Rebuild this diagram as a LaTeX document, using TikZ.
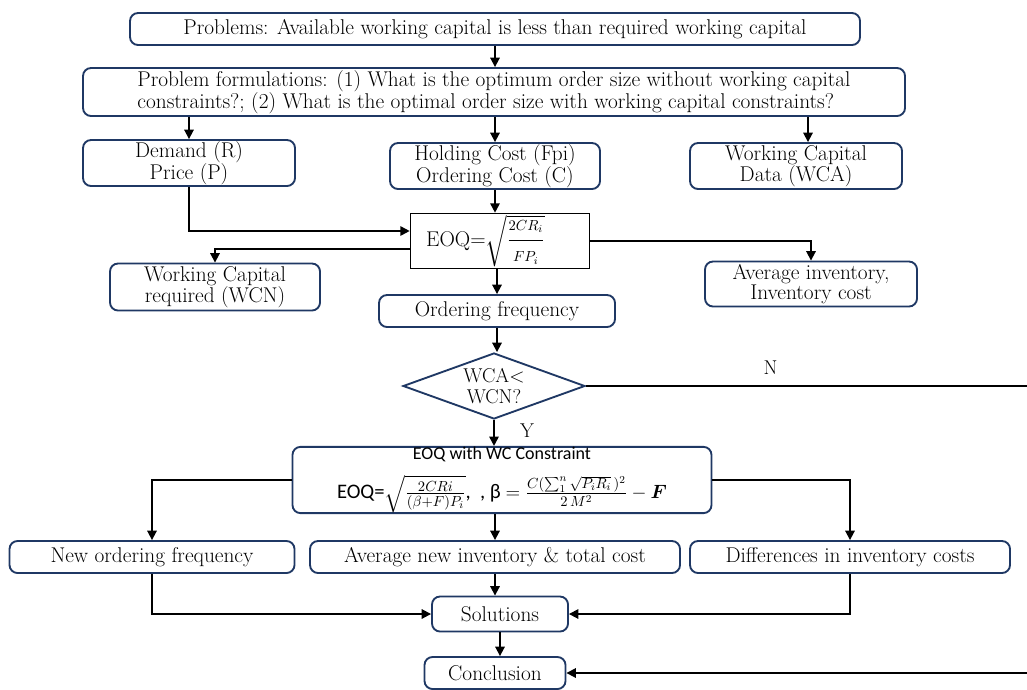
\documentclass[tikz,border=0pt]{standalone}
\usepackage{amsmath, amssymb}
\usepackage{fontspec}
\newfontfamily\calibri{Carlito}
\usepackage{tikz}
\usetikzlibrary{shapes.geometric, arrows.meta, positioning, calc}
\definecolor{azulBorde}{RGB}{31, 56, 100}

\begin{document}
\begin{tikzpicture}[x=0.75pt, y=-0.75pt,
            caja/.style={rectangle, rounded corners=6pt, draw=azulBorde, line width=1.4pt, fill=white, inner sep=0pt, minimum height=24pt, align=center, font=\fontsize{16}{15.5}\selectfont},
            recuadro/.style={rectangle, draw=black, line width=1.2pt, fill=white, inner sep=0pt, align=center, font=\fontsize{16}{15.5}\selectfont},
            rombo/.style={diamond, aspect=2.75, draw=azulBorde, line width=1.4pt, fill=white, inner sep=0pt, minimum width=136.5pt, minimum height=49.5pt, align=center, font=\fontsize{15}{15.5}\selectfont},
            etiqueta/.style={inner sep=0pt, font=\fontsize{15}{15}\selectfont},
            flecha/.style={-{Triangle[length=7pt, width=7pt]}, line width=1.3pt, black}]

            \useasboundingbox (0,0) rectangle (1027,689);

            \node[caja, minimum width=547.5pt] (prob) at (495,29) {Problems: Available working capital is less than required working capital};
            \node[caja, minimum width=616.5pt, minimum height=36pt, align=left] (form) at (494,92) {Problem formulations: (1) What is the optimum order size without working capital\\constraints?; (2) What is the optimal order size with working capital constraints?};
            \node[caja, minimum width=159pt, minimum height=34.5pt] (dem) at (189,163) {Demand (R)\\Price (P)};
            \node[caja, minimum width=157.5pt, minimum height=34.5pt] (hold) at (495,166) {Holding Cost (Fpi)\\Ordering Cost (C)};
            \node[caja, minimum width=159pt, minimum height=34.5pt] (wca) at (796,166) {Working Capital\\Data (WCA)};
            \node[recuadro, minimum width=134.25pt, minimum height=41.25pt] (eoq) at (500,241) {EOQ=$\sqrt{\dfrac{\scriptstyle 2CR_i}{\scriptstyle FP_i}}$\hspace{22pt}};
            \node[caja, minimum width=157.5pt, minimum height=35.25pt] (wcn) at (215,287) {Working Capital\\required (WCN)};
            \node[caja, minimum width=159pt, minimum height=33.75pt] (avg) at (811,284) {Average inventory,\\Inventory cost};
            \node[caja, minimum width=177pt] (ordf) at (497,311) {Ordering frequency};
            \node[rombo] (dec) at (494,386) {WCA<\\WCN?};
            \node[caja, minimum width=314.25pt, minimum height=48.75pt, font=\calibri] (eoqwc) at (502,480) {{\fontsize{13.5}{14}\selectfont EOQ with WC Constraint}\\[9pt]{\fontsize{15.5}{16}\selectfont EOQ=$\sqrt{\frac{2CRi}{(\beta+F)P_i}}$,\ \ , β $= \frac{C(\sum_1^n\sqrt{P_iR_i}\,)^2}{2\,M^2} - \boldsymbol{F}$}};
            \node[caja, minimum width=213.75pt] (nof) at (152,557) {New ordering frequency};
            \node[caja, minimum width=277.5pt] (ani) at (495,557) {Average new inventory \& total cost};
            \node[caja, minimum width=240pt] (dif) at (850,557) {Differences in inventory costs};
            \node[caja, minimum width=102pt, minimum height=26.25pt] (sol) at (500,614) {Solutions};
            \node[caja, minimum width=105.75pt] (conc) at (495,673) {Conclusion};
            \coordinate (der) at (1036,386);

            \draw[flecha] (prob.south) -- (prob.south |- form.north);
            \draw[flecha] (dem.north |- form.south) -- (dem.north);
            \draw[flecha] (hold.north |- form.south) -- (hold.north);
            \draw[flecha] ([xshift=9pt]wca.north |- form.south) -- ([xshift=9pt]wca.north);
            \draw[flecha] (dem.south) |- ([yshift=7.5pt]eoq.west);
            \draw[flecha] (hold.south) -- (hold.south |- eoq.north);
            \draw[flecha] ([yshift=-6pt]eoq.west) -| (wcn.north);
            \draw[flecha] (eoq.east) -| (avg.north);
            \draw[flecha] (ordf.north |- eoq.south) -- (ordf.north);
            \draw[flecha] (ordf.south) -- (ordf.south |- dec.north);
            \draw[flecha] (dec.south) -- node[etiqueta, pos=0.4, right=19pt] {Y} (dec.south |- eoqwc.north);
            \draw[flecha] (dec.east) -- node[etiqueta, pos=0.41, above=8pt] {N} (der) |- (conc.east);
            \draw[flecha] (eoqwc.west) -| (nof.north);
            \draw[flecha] (eoqwc.east) -| (dif.north);
            \draw[flecha] (ani.north |- eoqwc.south) -- (ani.north);
            \draw[flecha] (nof.south) |- (sol.west);
            \draw[flecha] (ani.south) -- (ani.south |- sol.north);
            \draw[flecha] (dif.south) |- (sol.east);
            \draw[flecha] (sol.south) -- (sol.south |- conc.north);
        \end{tikzpicture}
\end{document}
